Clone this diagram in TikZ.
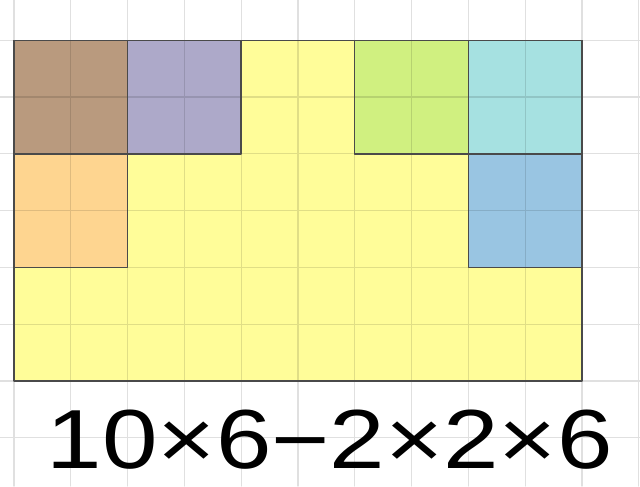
\documentclass[tikz,border=0pt]{standalone}
\usepackage{fontspec}
\setmainfont{Liberation Sans}
\definecolor{plotyellow}{HTML}{FFFD99}
\definecolor{plotbrown}{HTML}{B99A7E}
\definecolor{plotpurple}{HTML}{ADA9C9}
\definecolor{plotgreen}{HTML}{D0F080}
\definecolor{plotcyan}{HTML}{A6E1E1}
\definecolor{plotorange}{HTML}{FED590}
\definecolor{plotblue}{HTML}{99C5E2}
\definecolor{edgegray}{HTML}{4A4A4A}

\begin{document}
\begin{tikzpicture}[line cap=round,line join=round,every node/.style={inner sep=1pt}]
  \tikzset{piece/.style={draw=edgegray,line width=0.7pt}}
  \def\W{10}
  \def\H{6}
  \useasboundingbox (-0.246,-1.849) rectangle (11.021,6.708);
  \fill[white] (-0.246,-1.849) rectangle (11.021,6.708);
  % the big rectangle and the cut out corners
  \fill[plotyellow] (0,0) rectangle (\W,\H);
  \fill[plotbrown] (0,4) rectangle (2,6);
  \fill[plotpurple] (2,4) rectangle (4,6);
  \fill[plotgreen] (6,4) rectangle (8,6);
  \fill[plotcyan] (8,4) rectangle (10,6);
  \fill[plotorange] (0,2) rectangle (2,4);
  \fill[plotblue] (8,2) rectangle (10,4);
  \draw[black,opacity=0.12,line width=0.6pt] (-0.246,-1.849) grid (11.021,6.708);
  \draw[piece] (0,0) rectangle (\W,\H);
  \foreach \x/\y in {0/4,2/4,6/4,8/4,0/2,8/2}
    \draw[piece] (\x,\y) rectangle ++(2,2);
  \node[font=\fontsize{42}{42}\selectfont] (calc) at (5.56,-1.04)
    {\scalebox{1.19}[1]{10×6−2×2×6}};
\end{tikzpicture}
\end{document}
